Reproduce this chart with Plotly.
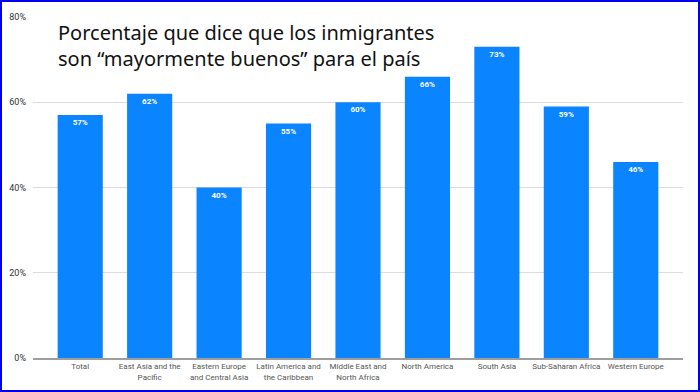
import plotly.graph_objects as go

categories = ["Total", "East Asia and the<br>Pacific", "Eastern Europe<br>and Central Asia",
              "Latin America and<br>the Caribbean", "Middle East and<br>North Africa",
              "North America", "South Asia", "Sub-Saharan Africa", "Western Europe"]
values = [57, 62, 40, 55, 60, 66, 73, 59, 46]
y_ticks = [0, 20, 40, 60, 80]
y_tick_labels = ["0%", "20%", "40%", "60%", "80%"]
title_text = "Porcentaje que dice que los inmigrantes<br>son “mayormente buenos” para el país"

W, H = 700, 392
L, R, T, B = 33, 17, 17, 34
pw, ph = W - L - R, H - T - B

fig = go.Figure()
fig.add_trace(go.Bar(
    x=list(range(len(categories))), y=values,
    marker=dict(color="#0A84FF", line=dict(width=0)),
    width=0.65,
    text=[f"{v}%" for v in values], textposition="inside", insidetextanchor="end",
    textfont=dict(color="white", size=8, family="Roboto", weight="bold"),
    cliponaxis=False,
))

fig.update_layout(
    width=W, height=H,
    margin=dict(l=L, r=R, t=T, b=B, autoexpand=False),
    paper_bgcolor="white", plot_bgcolor="white",
    showlegend=False,
    font=dict(family="Roboto", color="#444"),
    xaxis=dict(
        tickmode="array", tickvals=list(range(len(categories))), ticktext=categories,
        range=[-0.68, 8.68], showgrid=False, zeroline=False,
        showline=True, linecolor="#9e9e9e", linewidth=1.5,
        ticks="", tickfont=dict(size=8, color="#555"), fixedrange=True, automargin=False,
    ),
    yaxis=dict(
        range=[0, 80], tickmode="array", tickvals=y_ticks, ticktext=y_tick_labels,
        showgrid=True, gridcolor="#dcdcdc", gridwidth=1, zeroline=False,
        ticks="", tickfont=dict(size=9, color="#333"), ticklabelstandoff=6,
        automargin=False,
    ),
)

fig.add_annotation(
    text=title_text, xref="paper", yref="paper",
    x=(56 - L) / pw, y=1 - (17 - T) / ph, xanchor="left", yanchor="top",
    showarrow=False, align="left",
    font=dict(family="Noto Sans", size=20, color="#111"),
)

# blue frame around the whole picture
fig.add_shape(type="rect", xref="paper", yref="paper",
              x0=-(L - 1) / pw, x1=1 + (R - 1) / pw,
              y0=-(B - 1) / ph, y1=1 + (T - 1) / ph,
              line=dict(color="#0000F0", width=2), layer="above")

fig.write_html("out.html", config={"displayModeBar": False},
               post_script="document.body.style.margin='0';document.body.style.overflow='hidden';")
